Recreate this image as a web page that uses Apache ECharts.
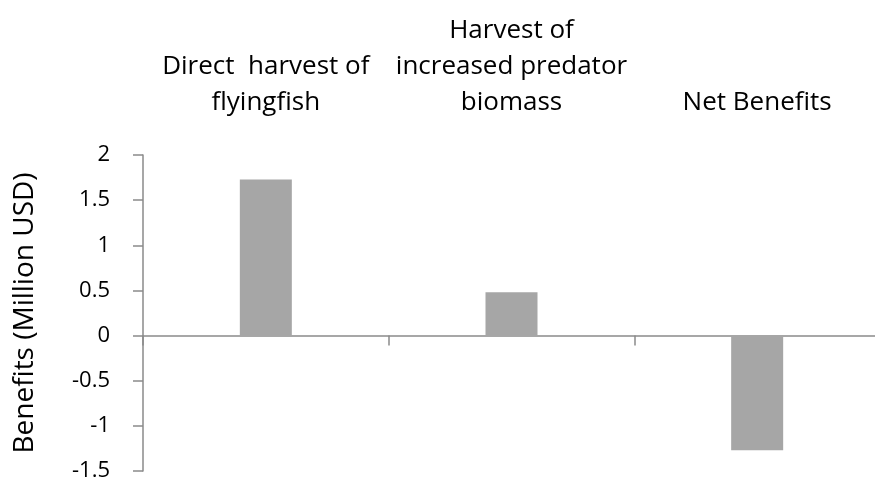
<!DOCTYPE html>
<html>
<head>
<meta charset="utf-8">
<script src="https://cdn.jsdelivr.net/npm/echarts@6/dist/echarts.min.js"></script>
<style>
  html, body { margin: 0; padding: 0; background: #fff; }
  #chart { width: 875px; height: 484px; }
</style>
</head>
<body>
<div id="chart"></div>
<script>
// categories and values
const categories = ['Direct  harvest of\nflyingfish', 'Harvest of\nincreased predator\nbiomass', 'Net Benefits'];
const benefits = [1.73, 0.48, -1.27];
const yMin = -1.5;
const yMax = 2;
const yStep = 0.5;

const font = '"Open Sans", "DejaVu Sans", sans-serif';
const axisGrey = '#8a8a8a';

const myChart = echarts.init(document.getElementById('chart'));
myChart.setOption({
  animation: false,
  grid: {
    left: 143,
    right: -5,
    top: 155,
    bottom: 13,
    containLabel: false,
    outerBoundsMode: 'none'
  },
  xAxis: [{
    // bottom axis: line at zero, ticks between categories
    type: 'category',
    data: categories,
    position: 'bottom',
    axisLine: { onZero: true, lineStyle: { color: axisGrey, width: 1.5 } },
    axisTick: { show: true, length: 10, lineStyle: { color: axisGrey, width: 1.5 } },
    axisLabel: { show: false }
  }, {
    // top axis: only the category names
    type: 'category',
    data: categories,
    position: 'top',
    axisLine: { show: false, onZero: false },
    axisTick: { show: false },
    axisLabel: {
      interval: 0,
      hideOverlap: false,
      margin: 34,
      color: '#000',
      fontFamily: font,
      fontSize: 26,
      lineHeight: 36
    }
  }],
  yAxis: {
    type: 'value',
    min: yMin,
    max: yMax,
    interval: yStep,
    name: 'Benefits (Million USD)',
    nameLocation: 'middle',
    nameGap: 104,
    nameTextStyle: { color: '#000', fontFamily: font, fontSize: 28 },
    axisLine: { show: true, onZero: false, lineStyle: { color: axisGrey, width: 1.5 } },
    axisTick: { show: true, length: 10, lineStyle: { color: axisGrey, width: 1.5 } },
    axisLabel: { margin: 33, color: '#000', fontFamily: font, fontSize: 22 },
    splitLine: { show: false }
  },
  series: [{
    type: 'bar',
    xAxisIndex: 0,
    data: benefits,
    barWidth: 52,
    itemStyle: { color: '#a6a6a6' }
  }]
});
</script>
</body>
</html>
